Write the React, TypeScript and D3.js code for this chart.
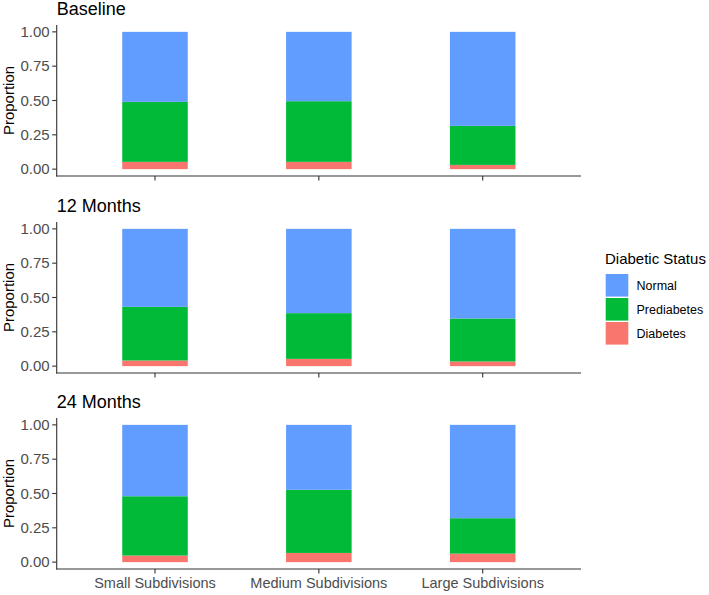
import React from "react";
import * as d3 from "d3";

// Subdivision size categories along the x axis
const categories = ["Small Subdivisions", "Medium Subdivisions", "Large Subdivisions"];

// Time points, one panel each
const panels = ["Baseline", "12 Months", "24 Months"];

// Diabetic status levels (stack order bottom → top)
const statuses = ["Diabetes", "Prediabetes", "Normal"];

// Proportions per panel, per category
const diabetes = [
  [0.053, 0.053, 0.031],
  [0.041, 0.053, 0.034],
  [0.048, 0.067, 0.062],
];
const prediabetes = [
  [0.437, 0.442, 0.284],
  [0.391, 0.333, 0.313],
  [0.432, 0.460, 0.258],
];
const normal = [
  [0.510, 0.505, 0.685],
  [0.568, 0.614, 0.653],
  [0.520, 0.473, 0.680],
];

const yTicks = [0, 0.25, 0.5, 0.75, 1];

const colors: Record<string, string> = {
  Normal: "#619CFF",
  Prediabetes: "#00BA38",
  Diabetes: "#F8766D",
};

const FONT = "'Liberation Sans', Arial, sans-serif";

const W = 709;
const H = 595;
const left = 56.7;
const right = 581;
const panelTops = [25, 222, 418];
const panelH = 151;

export default function App() {
  const x = d3.scalePoint<string>().domain(categories).range([left, right]).padding(0.6);
  const barW = x.step() * 0.4;

  return (
    <svg
      width={W}
      height={H}
      style={{ position: "absolute", left: 0, top: 0, background: "#fff" }}
      fontFamily={FONT}
    >
      <rect width={W} height={H} fill="#fff" />
      {panels.map((title, p) => {
        const top = panelTops[p];
        const y = d3
          .scaleLinear()
          .domain([-0.05, 1.05])
          .range([top + panelH, top]);
        const rows = categories.map((c, i) => ({
          cat: c,
          Diabetes: diabetes[p][i],
          Prediabetes: prediabetes[p][i],
          Normal: normal[p][i],
        }));
        const stacked = d3.stack<any>().keys(statuses)(rows);
        const bottom = top + panelH;
        return (
          <g key={title}>
            <text x={left} y={top - 10} fontSize={18} fill="#000">
              {title}
            </text>
            {stacked.map((layer) => (
              <g key={layer.key} fill={colors[layer.key]}>
                {layer.map((d, i) => (
                  <rect
                    key={i}
                    x={(x(categories[i]) as number) - barW / 2}
                    y={y(d[1])}
                    width={barW}
                    height={y(d[0]) - y(d[1])}
                  />
                ))}
              </g>
            ))}
            {/* y axis */}
            <line x1={left} x2={left} y1={top} y2={bottom + 0.5} stroke="#333" strokeWidth={1.1} />
            {yTicks.map((t) => (
              <g key={t}>
                <line x1={left - 4.5} x2={left} y1={y(t)} y2={y(t)} stroke="#333" strokeWidth={1.1} />
                <text
                  x={left - 7}
                  y={y(t)}
                  dy="0.35em"
                  textAnchor="end"
                  fontSize={15}
                  fill="#4D4D4D"
                >
                  {d3.format(".2f")(t)}
                </text>
              </g>
            ))}
            <text
              transform={`translate(14,${top + panelH / 2}) rotate(-90)`}
              textAnchor="middle"
              fontSize={15}
              fill="#000"
            >
              Proportion
            </text>
            {/* x axis */}
            <line x1={left - 0.5} x2={right} y1={bottom} y2={bottom} stroke="#333" strokeWidth={1.1} />
            {categories.map((c) => (
              <line
                key={c}
                x1={x(c)}
                x2={x(c)}
                y1={bottom}
                y2={bottom + 4.5}
                stroke="#333"
                strokeWidth={1.1}
              />
            ))}
            {p === panels.length - 1 &&
              categories.map((c) => (
                <text
                  key={c}
                  x={x(c)}
                  y={bottom + 19}
                  textAnchor="middle"
                  fontSize={14.5}
                  fill="#4D4D4D"
                >
                  {c}
                </text>
              ))}
          </g>
        );
      })}
      {/* legend */}
      <g transform="translate(605,0)">
        <text x={0} y={264} fontSize={15} fill="#000">
          Diabetic Status
        </text>
        {["Normal", "Prediabetes", "Diabetes"].map((s, i) => {
          const ky = 274 + i * 24;
          return (
            <g key={s}>
              <rect x={0.7} y={ky} width={22.6} height={22.6} fill={colors[s]} />
              <text x={31.5} y={ky + 11.3} dy="0.35em" fontSize={12.5} fill="#000">
                {s}
              </text>
            </g>
          );
        })}
      </g>
    </svg>
  );
}
